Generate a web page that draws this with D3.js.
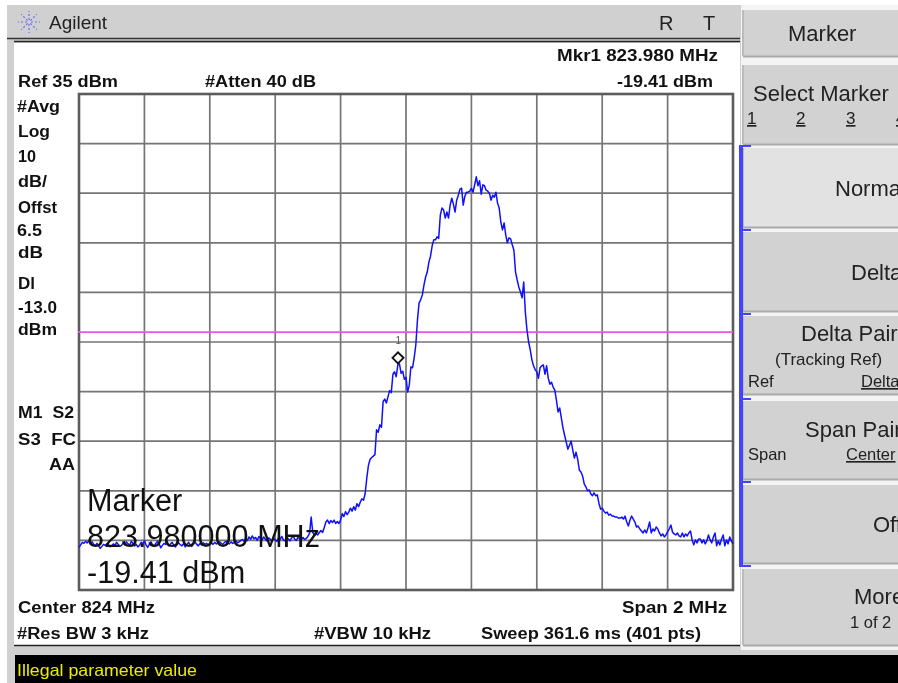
<!DOCTYPE html>
<html>
<head>
<meta charset="utf-8">
<style>
html,body{margin:0;padding:0;background:#fff;overflow:hidden}
svg{display:block;filter:blur(0.35px)}
text{font-family:"Liberation Sans",Arial,sans-serif}
</style>
<script src="https://cdn.jsdelivr.net/npm/d3@7"></script>
</head>
<body>
<svg id="c" width="898" height="683"></svg>
<script>
const startMHz = 823, spanMHz = 2, refDbm = 35, dbPerDiv = 10, divisions = 10;
const displayLineDbm = -13;
const markerIndex = 196;
const markerDbm = -19.41;
const traceDbm = [
-56.4,-55.9,-55.4,-55.6,-55.2,-55.5,-55.1,-55.7,-55.3,-55.8,-56.0,-55.6,-56.1,-56.6,-56.2,-55.8,-56.0,-55.7,-55.9,-56.3,
-56.1,-55.7,-56.0,-55.4,-55.8,-56.2,-56.0,-55.5,-55.9,-55.3,-55.7,-56.0,-55.2,-55.6,-56.1,-55.8,-56.3,-56.0,-55.4,-55.7,
-55.1,-55.9,-56.4,-55.8,-55.3,-55.9,-56.2,-55.6,-55.2,-55.7,-56.5,-56.0,-55.6,-55.8,-55.3,-56.1,-55.7,-55.4,-56.0,-56.3,
-55.8,-55.5,-55.9,-56.1,-55.6,-56.3,-55.8,-55.4,-55.9,-56.2,-55.7,-55.3,-55.8,-56.1,-55.6,-55.9,-55.5,-55.8,-55.6,-55.9,
-55.7,-55.5,-55.8,-55.4,-55.7,-55.5,-55.3,-55.6,-55.8,-55.4,-55.2,-55.5,-55.7,-55.3,-55.6,-55.4,-55.1,-55.5,-55.3,-55.0,
-54.8,-55.2,-54.6,-55.0,-54.3,-54.8,-54.1,-54.7,-54.4,-55.0,-54.2,-54.6,-54.9,-54.3,-54.8,-55.1,-54.5,-54.8,-55.2,-54.6,
-54.9,-55.2,-54.5,-54.8,-54.2,-54.9,-55.1,-54.4,-54.7,-55.1,-54.5,-54.1,-54.8,-55.0,-54.3,-54.7,-54.9,-54.4,-54.8,-54.6,
-54.2,-53.6,-50.3,-53.4,-54.0,-53.6,-53.9,-53.4,-53.0,-53.4,-52.4,-51.3,-50.9,-51.6,-51.0,-51.4,-50.9,-51.6,-51.2,-51.6,
-50.9,-49.6,-50.2,-49.2,-49.8,-49.3,-48.5,-49.1,-48.2,-48.9,-47.6,-48.2,-47.3,-46.6,-46.9,-45.6,-42.5,-39.9,-38.7,-38.3,
-38.0,-37.7,-32.7,-33.2,-31.7,-32.2,-27.0,-26.5,-27.3,-26.0,-24.8,-25.2,-21.5,-21.0,-22.0,-19.6,-19.41,-21.3,-20.9,-22.5,
-22.1,-25.1,-23.7,-20.0,-20.2,-18.2,-15.6,-10.6,-7.1,-6.5,-5.5,-3.5,-1.9,-0.9,1.1,2.3,4.4,5.6,5.6,6.2,
5.9,10.6,12.0,11.6,10.0,11.2,10.0,12.6,14.0,12.8,11.2,13.6,14.6,15.8,16.0,12.6,14.4,15.2,15.2,15.4,
16.0,15.2,16.7,18.3,16.5,17.5,14.8,16.7,16.5,15.6,15.4,15.0,13.6,14.6,14.2,15.2,13.0,12.0,9.2,7.6,
9.0,6.6,5.0,6.0,5.8,4.6,3.5,-0.9,-2.5,-3.9,-4.9,-6.1,-2.9,-9.0,-12.6,-15.0,-16.6,-18.6,-19.8,-20.6,
-21.0,-22.3,-20.2,-19.8,-19.6,-21.5,-19.8,-22.3,-23.5,-23.1,-24.1,-24.7,-26.7,-29.1,-28.3,-30.3,-32.3,-33.8,-35.2,-36.6,
-35.8,-35.0,-36.8,-38.4,-37.2,-38.6,-40.8,-41.2,-42.0,-43.6,-44.2,-45.0,-44.8,-45.6,-46.0,-45.4,-46.0,-45.8,-47.5,-48.7,
-48.5,-49.1,-49.5,-49.3,-49.9,-49.7,-50.1,-50.1,-50.3,-50.3,-50.5,-50.5,-50.3,-50.7,-50.1,-51.3,-52.1,-50.9,-50.1,-50.7,
-51.3,-52.3,-52.1,-52.7,-53.1,-53.5,-52.9,-53.5,-52.5,-51.3,-53.5,-52.7,-53.1,-52.3,-52.7,-53.5,-54.1,-53.7,-54.3,-53.9,
-53.3,-52.7,-51.9,-53.3,-53.7,-53.9,-53.5,-54.1,-54.3,-53.5,-54.3,-53.7,-54.1,-53.5,-53.1,-54.9,-55.9,-54.9,-55.5,-54.7,
-54.7,-55.5,-54.9,-55.7,-55.1,-53.9,-54.9,-55.5,-54.3,-53.5,-56.1,-55.1,-55.9,-54.7,-53.9,-56.1,-54.9,-55.7,-54.3,-55.1,-55.7
];
const headerLabels = ["Mkr1 823.980 MHz","Ref 35 dBm","#Atten 40 dB","-19.41 dBm"];
const sideLabels = ["#Avg","Log","10","dB/","Offst","6.5","dB","Dl","-13.0","dBm"];
const statusLabels = ["M1  S2","S3  FC","AA"];
const footerLabels = ["Center 824 MHz","Span 2 MHz","#Res BW 3 kHz","#VBW 10 kHz","Sweep 361.6 ms (401 pts)"];
const overlayLines = ["Marker","823.980000 MHz","-19.41 dBm"];
const messageText = "Illegal parameter value";

const svg = d3.select("#c");
const rect = (x,y,w,h,f,s,sw)=>svg.append("rect").attr("x",x).attr("y",y).attr("width",w).attr("height",h).attr("fill",f).attr("stroke",s||"none").attr("stroke-width",sw||0);
const hl = (x1,y1,x2,y2,c,w)=>svg.append("line").attr("x1",x1).attr("y1",y1).attr("x2",x2).attr("y2",y2).attr("stroke",c).attr("stroke-width",w);
const txt = (x,y,t,size,bold,fill)=>svg.append("text").attr("x",x).attr("y",y).attr("font-size",size).attr("font-weight",bold?"bold":"normal").attr("fill",fill||"#111").attr("xml:space","preserve").style("white-space","pre").text(t);
const bold = (x,y,t,w)=>txt(x,y,t,16,true).attr("textLength",w).attr("lengthAdjust","spacingAndGlyphs");

// instrument chrome
rect(7,5,891,678,"#d0d0d0");
rect(14,43,726,602,"#ffffff");
hl(7,38.5,740,38.5,"#333",1.5);
hl(14,41.5,740,41.5,"#222",1.5);
hl(14,645.5,740,645.5,"#222",1.5);
rect(15,655,883,28,"#000");

// logo
const logo = svg.append("g").attr("transform","translate(29,22)").attr("stroke","#6a6af0").attr("stroke-width",1.2).attr("stroke-dasharray","2 2");
d3.range(0,8).forEach(k=>{const a=k*Math.PI/4;logo.append("line").attr("x1",2*Math.cos(a)).attr("y1",2*Math.sin(a)).attr("x2",11*Math.cos(a)).attr("y2",11*Math.sin(a));});
txt(49,29,"Agilent",19,false,"#222");
txt(659,30,"R",20,false,"#222");
txt(703,30,"T",20,false,"#222");

// softkeys
const keys=[[10,46,"#d2d2d2"],[65,79,"#d2d2d2"],[148,79,"#e2e2e2"],[232,79,"#d2d2d2"],[316,78,"#d2d2d2"],[401,78,"#d2d2d2"],[485,78,"#d2d2d2"],[569,76,"#d2d2d2"]];
rect(741,5,157,645,"#f4f4f4");
keys.forEach(k=>{
  rect(743,k[0],155,k[1],k[2]);
  hl(743,k[0]+k[1]+.5,898,k[0]+k[1]+.5,"#aaa",2);
  hl(743,k[0],743,k[0]+k[1],"#bbb",2);
});
rect(739,145,4,421,"#4444ff");
[145,229,313,398,481,565].forEach(y=>rect(739,y,12,2,"#4444ff"));
const key=(x,y,t,s,u)=>{const n=txt(x,y,t,s,false,"#222"); if(u)n.attr("text-decoration","underline");};
key(788,41,"Marker",22);
key(753,101,"Select Marker",22);
[["1",747],["2",796],["3",846],["4",896]].forEach(d=>key(d[1],124,d[0],17,true));
key(835,196,"Normal",22);
key(851,280,"Delta",22);
key(801,341,"Delta Pair",22);
key(775,365,"(Tracking Ref)",17);
key(748,387,"Ref",16.5);
key(861,387,"Delta",16.5,true);
key(805,437,"Span Pair",22);
key(748,460,"Span",16.5);
key(846,460,"Center",16.5,true);
key(873,532,"Off",22);
key(854,604,"More",22);
key(850,628,"1 of 2",16.5);

// plot
const x = d3.scaleLinear().domain([startMHz,startMHz+spanMHz]).range([79,733]);
const y = d3.scaleLinear().domain([refDbm-dbPerDiv*divisions,refDbm]).range([590,94]);
const xTicks = d3.range(0,divisions+1).map(i=>startMHz+spanMHz*i/divisions);
const yTicks = d3.range(0,divisions+1).map(i=>refDbm-dbPerDiv*i);
const gx = svg.append("g").attr("transform","translate(0,590)").call(d3.axisBottom(x).tickValues(xTicks).tickSize(-496).tickFormat("").offset(0));
const gy = svg.append("g").attr("transform","translate(79,0)").call(d3.axisLeft(y).tickValues(yTicks).tickSize(-654).tickFormat("").offset(0));
[gx,gy].forEach(g=>{g.select(".domain").remove();g.selectAll("line").attr("stroke","#757575").attr("stroke-width",1.7);});
rect(79,94,654,496,"none","#5c5c5c",2.6);

const freq = i=>startMHz+spanMHz*i/(traceDbm.length-1);
svg.append("line").attr("x1",x.range()[0]-1).attr("x2",x.range()[1]).attr("y1",y(displayLineDbm)).attr("y2",y(displayLineDbm)).attr("stroke","#f050f0").attr("stroke-width",1.8);
svg.append("path").datum(traceDbm).attr("fill","none").attr("stroke","#1010ff").attr("stroke-width",1.5).attr("stroke-linejoin","round")
  .attr("d",d3.line().x((d,i)=>x(freq(i))).y(d=>y(d)));

// marker
const mx=x(freq(markerIndex))-1.5, my=y(markerDbm)-6;
svg.append("path").attr("d",`M${mx-5.5},${my}L${mx},${my-5.5}L${mx+5.5},${my}L${mx},${my+5.5}Z`).attr("fill","#fff").attr("stroke","#111").attr("stroke-width",1.9);
txt(mx-2.5,my-14,"1",10,false,"#555");

// bold labels
bold(557,61,headerLabels[0],161);
bold(18,87,headerLabels[1],100);
bold(205,87,headerLabels[2],111);
bold(617,87,headerLabels[3],96);
const sideWidths=[43,32,18,29,39,25,25,17,39,39];
[112,137,162,187,213,236,258,289,313,335].forEach((b,i)=>bold(i==0||i==5?17:18,b,sideLabels[i],sideWidths[i]));
bold(18,418,statusLabels[0],56);
bold(18,445,statusLabels[1],58);
bold(49,470,statusLabels[2],26);
bold(18,613,footerLabels[0],137);
bold(622,613,footerLabels[1],105);
bold(17,639,footerLabels[2],132);
bold(314,639,footerLabels[3],117);
bold(481,639,footerLabels[4],220);

// overlay
[511,547,583].forEach((b,i)=>txt(87,b,overlayLines[i],30.6,false,"#111"));
txt(17,676,messageText,16.5,false,"#ecec00").attr("textLength",180).attr("lengthAdjust","spacingAndGlyphs");
</script>
</body>
</html>
